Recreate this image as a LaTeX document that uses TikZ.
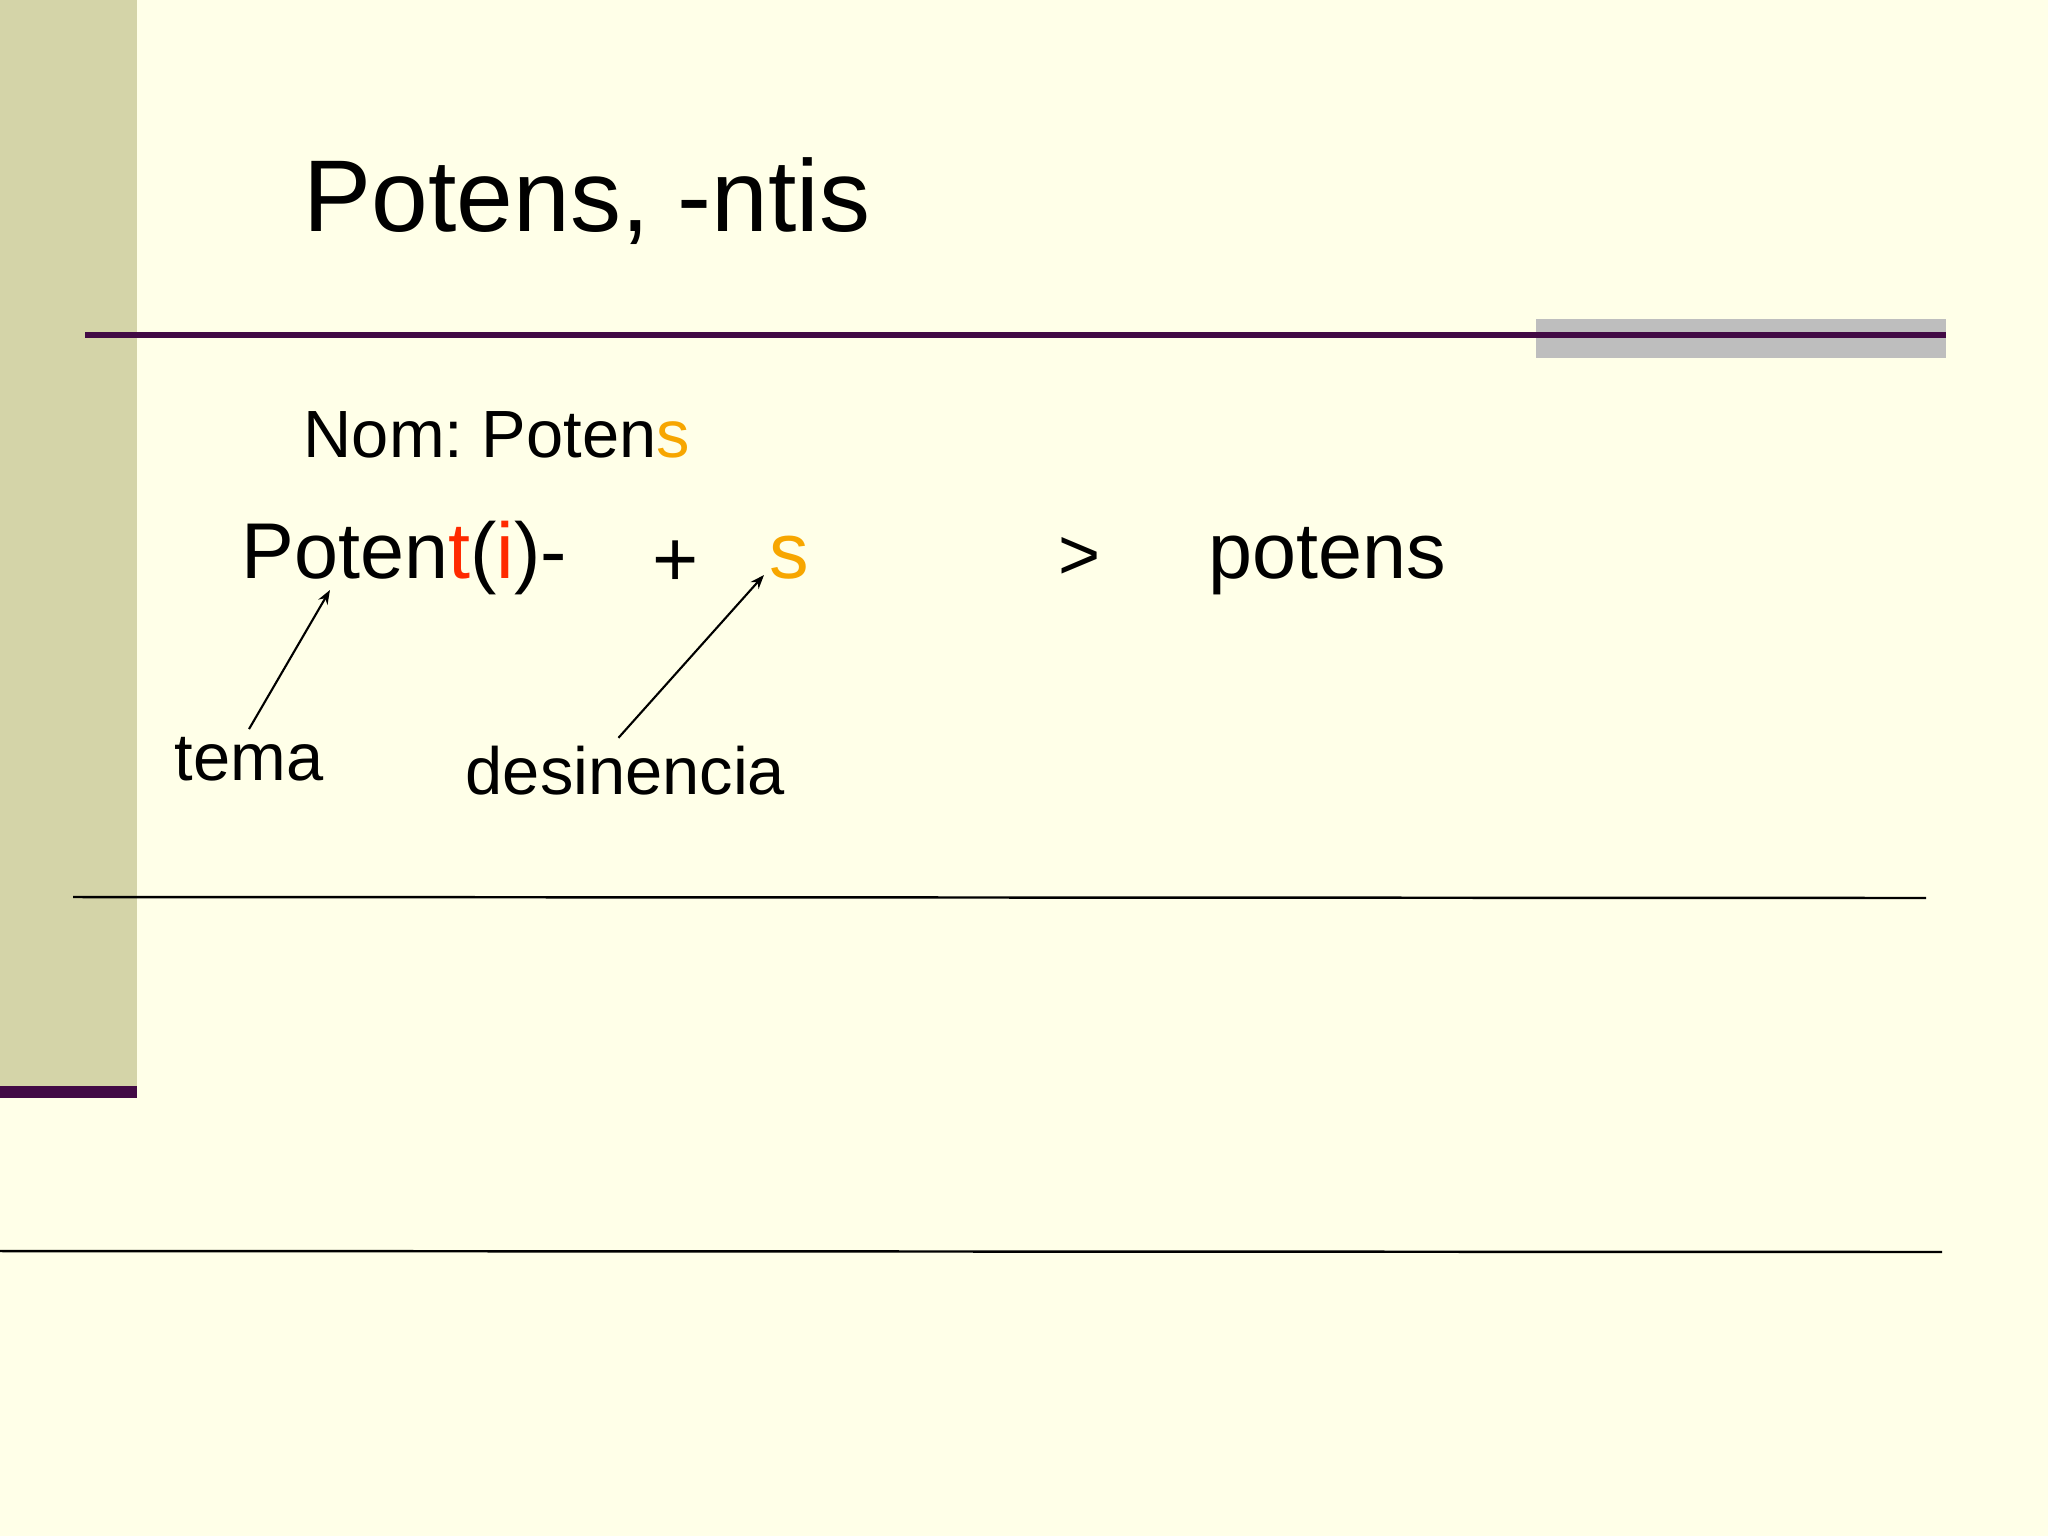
\documentclass[tikz,border=0pt]{standalone}
\usepackage{fontspec}
\setmainfont{Liberation Sans}
\usetikzlibrary{arrows.meta}
\frenchspacing
\definecolor{fondo}{HTML}{FFFFE8}
\definecolor{barra}{HTML}{D4D4A8}
\definecolor{morado}{HTML}{420A45}
\definecolor{gris}{HTML}{BEBEBE}
\definecolor{rojo}{HTML}{FF2A00}
\definecolor{naranja}{HTML}{F7A600}
\begin{document}
\begin{tikzpicture}[x=0.01cm,y=-0.01cm,
    txt/.style={inner sep=0pt,anchor=base west},
    grande/.style={font=\fontsize{22.5}{27}\selectfont},
    medio/.style={font=\fontsize{19}{23}\selectfont},
    flecha/.style={-{Stealth[length=4pt,width=3pt]},line width=0.6pt}]
            \useasboundingbox (0,0) rectangle (2048,1536);
            \fill [fondo] (0,0) rectangle (2048,1536);
            \fill [barra] (0,0) rectangle (137,1086);
            \fill [morado] (0,1086) rectangle (137,1098);
            \fill [gris] (1536,319) rectangle (1946,358);
            \fill [morado] (85,332) rectangle (1946,338);
            \draw [line width=0.7pt] (73,897) -- (1926,898);
            \draw [line width=0.7pt] (0,1251) -- (1942,1252);
            \node [txt,font=\fontsize{29}{35}\selectfont] (titulo) at (303,231) {Potens, -ntis};
            \node [txt,medio] (nom) at (303,457) {Nom: Poten\textcolor{naranja}{s}};
            \node [txt,grande] (tema) at (241,578) {Poten\textcolor{rojo}{t}(\textcolor{rojo}{i})-};
            \node [inner sep=0pt,grande] (mas) at (676,564) {+};
            \node [txt,grande,text=naranja] (desin) at (769,578) {s};
            \node [inner sep=0pt,font=\fontsize{20.5}{25}\selectfont] (mayor) at (1080,558) {>};
            \node [txt,grande] (resultado) at (1208,578) {potens};
            \node [txt,medio,inner sep=2pt] (etema) at (167,780) {tema};
            \node [txt,medio,inner sep=2pt] (edesin) at (458,794) {desinencia};
            \coordinate (puntatema) at (330,590);
            \coordinate (puntadesin) at (764,575);
            \draw [flecha] (etema.north) -- (puntatema);
            \draw [flecha] ([xshift=-2pt]edesin.north) -- (puntadesin);
        \end{tikzpicture}
\end{document}
